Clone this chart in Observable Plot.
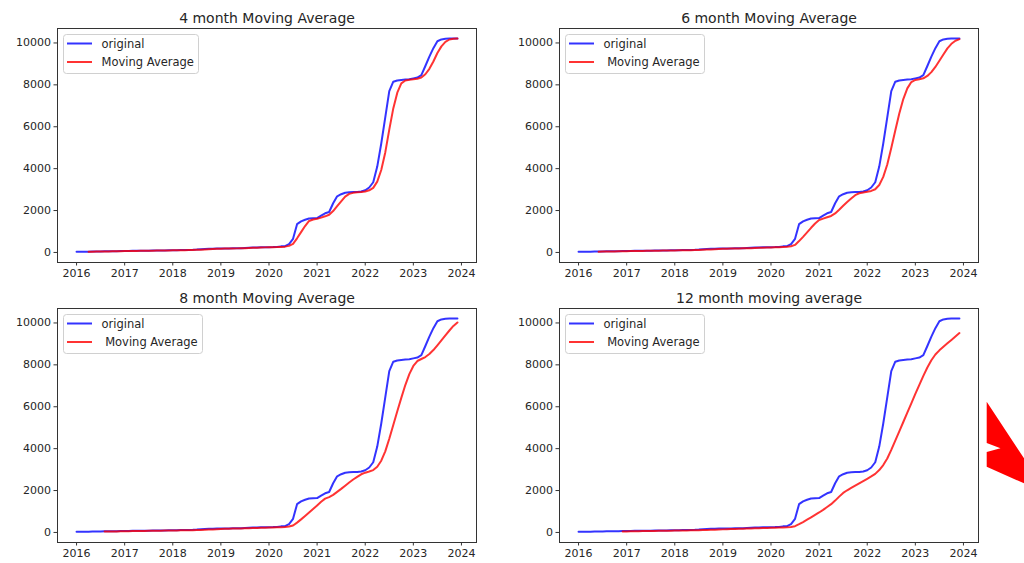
<!DOCTYPE html>
<html>
<head>
<meta charset="utf-8">
<script src="https://cdn.jsdelivr.net/npm/d3@7"></script>
<script src="https://cdn.jsdelivr.net/npm/@observablehq/plot@0.6"></script>
<style>
  body { margin: 0; background: #fff; }
  #chart { position: relative; width: 1024px; height: 563px; overflow: hidden; background: #fff;
           font-family: "DejaVu Sans", sans-serif; }
  #chart > svg { position: absolute; }
</style>
</head>
<body>
<div id="chart"></div>
<script>
// Monthly cumulative series, January 2016 to December 2023
const startYear = 2016;
const original = [
  30, 32, 35, 38, 42, 45, 48, 52, 55, 58, 62, 65,            // 2016
  68, 72, 75, 78, 80, 83, 86, 88, 92, 95, 98, 100,           // 2017
  105, 108, 112, 115, 120, 125, 135, 150, 165, 175, 180, 185, // 2018
  188, 190, 192, 195, 200, 205, 215, 225, 235, 240, 245, 248, // 2019
  250, 255, 265, 290, 300, 400, 650, 1350, 1480, 1560, 1620, 1630, // 2020
  1640, 1760, 1870, 1930, 2350, 2680, 2780, 2850, 2870, 2880, 2890, 2910, // 2021
  2970, 3100, 3350, 4100, 5200, 6450, 7700, 8150, 8210, 8230, 8250, 8270, // 2022
  8310, 8350, 8460, 8900, 9350, 9750, 10080, 10170, 10200, 10210, 10210, 10210 // 2023
];

// Moving-average window per panel (months) and panel texts
const windows = [4, 6, 8, 12];
const titles = ["4 month Moving Average", "6 month Moving Average", "8 month Moving Average", "12 month moving average"];
const seriesLabels = ["original", "Moving Average"];
const averageLabels = ["Moving Average", " Moving Average", " Moving Average", " Moving Average"];
const yearTicks = [2016, 2017, 2018, 2019, 2020, 2021, 2022, 2023, 2024];
const valueTicks = [0, 2000, 4000, 6000, 8000, 10000];

const rows = original.map((v, i) => ({ t: startYear + i / 12, v }));

// Panel placement inside the page
const panels = [
  { left: 0,   top: 0,   height: 282, ml: 57, mr: 36, mt: 28, mb: 20 },
  { left: 512, top: 0,   height: 282, ml: 47, mr: 46, mt: 28, mb: 20 },
  { left: 0,   top: 280, height: 283, ml: 57, mr: 36, mt: 28, mb: 21 },
  { left: 512, top: 280, height: 283, ml: 47, mr: 46, mt: 28, mb: 21 }
];

const chart = document.getElementById("chart");
const ink = "#262626";

panels.forEach((p, idx) => {
  const k = windows[idx];
  const svg = Plot.plot({
    width: 512,
    height: p.height,
    marginLeft: p.ml, marginRight: p.mr, marginTop: p.mt, marginBottom: p.mb,
    style: { fontFamily: "DejaVu Sans, sans-serif", fontSize: "11px", color: ink, background: "transparent", overflow: "visible" },
    x: { type: "linear", domain: [2015.604, 2024.313] },
    y: { type: "linear", domain: [-480, 10690] },
    marks: [
      Plot.axisX(yearTicks, { tickSize: 3.5, tickPadding: 3, tickFormat: d => String(d), label: null, fontSize: 11, stroke: "#333" }),
      Plot.axisY(valueTicks, { tickSize: 3.5, tickPadding: 3, tickFormat: d => String(d), label: null, fontSize: 11, stroke: "#333" }),
      Plot.lineY(rows, { x: "t", y: "v", stroke: "blue", strokeOpacity: 0.8, strokeWidth: 2 }),
      Plot.lineY(rows, Plot.windowY({ k, anchor: "end", strict: true, reduce: "mean" },
        { x: "t", y: "v", stroke: "red", strokeOpacity: 0.8, strokeWidth: 2 })),
      Plot.frame({ stroke: "#333", strokeWidth: 1 }),
      Plot.text([titles[idx]], { text: d => d, frameAnchor: "top", lineAnchor: "bottom", dy: -6, fontSize: 14, fill: ink })
    ]
  });
  svg.style.left = p.left + "px";
  svg.style.top = p.top + "px";
  chart.appendChild(svg);

  // Legend box in the upper-left corner of the frame
  const g = d3.select(svg).append("g")
    .attr("transform", `translate(${p.ml + 6.5},${p.mt + 6.5})`)
    .attr("text-anchor", "start")
    .style("font-family", "DejaVu Sans, sans-serif")
    .style("font-size", "11.5px");
  const box = g.append("rect")
    .attr("x", 0).attr("y", 0).attr("height", 39).attr("rx", 3)
    .attr("fill", "white").attr("fill-opacity", 0.8)
    .attr("stroke", "#d0d0d0").attr("stroke-width", 1);
  const entries = [
    { label: seriesLabels[0], color: "blue", y: 9 },
    { label: averageLabels[idx], color: "red", y: 27.5 }
  ];
  let maxLen = 0;
  entries.forEach(e => {
    g.append("line")
      .attr("x1", 3.5).attr("x2", 28.5).attr("y1", e.y).attr("y2", e.y)
      .attr("stroke", e.color).attr("stroke-opacity", 0.8).attr("stroke-width", 2);
    const t = g.append("text")
      .attr("x", 38).attr("y", e.y).attr("dy", "0.35em")
      .attr("text-anchor", "start")
      .attr("fill", ink)
      .attr("xml:space", "preserve")
      .style("white-space", "pre")
      .text(e.label);
    maxLen = Math.max(maxLen, t.node().getComputedTextLength());
  });
  box.attr("width", Math.round(38 + maxLen + 5));
});

// Red pointer drawn at the right edge of the page
const arrow = d3.select(chart).append("svg")
  .attr("width", 1024).attr("height", 563)
  .style("left", "0px").style("top", "0px")
  .style("pointer-events", "none");
arrow.append("polygon")
  .attr("points", "986.7,401.7 1024,458.3 1024,483.3 986.7,466.7 986.7,452 1000.5,448.3 986.7,443")
  .attr("fill", "#ff0000");
</script>
</body>
</html>
